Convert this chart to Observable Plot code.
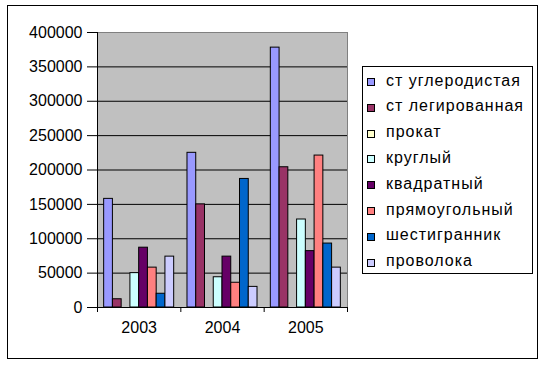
<!DOCTYPE html>
<html><head><meta charset="utf-8">
<script src="https://cdn.jsdelivr.net/npm/d3@7"></script>
<script src="https://cdn.jsdelivr.net/npm/@observablehq/plot@0.6"></script>
<style>
body{margin:0;background:#fff;}
#wrap{position:relative;width:546px;height:365px;font-family:"Liberation Sans",Arial,sans-serif;overflow:hidden;}
#wrap svg{position:absolute;left:0;top:0;}
#border{position:absolute;left:7px;top:5px;width:529px;height:352px;border:1px solid #000;pointer-events:none;}
#legend{position:absolute;left:362px;top:66px;width:169px;height:206px;border:1px solid #000;background:#fff;}
#legend .sw{position:absolute;left:4px;width:6px;height:6px;border:1px solid #000;}
#legend .tx{position:absolute;left:23px;font-size:16px;line-height:18px;letter-spacing:1px;white-space:nowrap;color:#000;}
</style></head>
<body>
<div id="wrap"><div id="border"></div><div id="legend"></div></div>
<script>
const years = ["2003", "2004", "2005"];
const series = ["ст углеродистая", "ст легированная", "прокат", "круглый", "квадратный", "прямоугольный", "шестигранник", "проволока"];
const colors = ["#9999FF", "#993366", "#FFFFCC", "#CCFFFF", "#660066", "#FF8080", "#0066CC", "#CCCCFF"];
const uglerodistaya = [158000, 225000, 378000];
const legirovannaya = [12000, 150000, 204000];
const prokat = [0, 0, 0];
const krugly = [50000, 44000, 128000];
const kvadratny = [87000, 74000, 82000];
const pryamougolny = [58000, 36000, 221000];
const shestigrannik = [20000, 187000, 93000];
const provoloka = [74000, 30000, 58000];
const yTicks = [0, 50000, 100000, 150000, 200000, 250000, 300000, 350000, 400000];

const seriesValues = [uglerodistaya, legirovannaya, prokat, krugly, kvadratny, pryamougolny, shestigrannik, provoloka];
const data = series.flatMap((s, si) => years.map((y, yi) => ({year: y, series: s, value: seriesValues[si][yi]})));

const W = 546, H = 365;
const M = {marginLeft: 97, marginRight: 199, marginTop: 32, marginBottom: 58};
const step = (W - M.marginLeft - M.marginRight) / years.length;
const font = {fontFamily: "'Liberation Sans', Arial, sans-serif", fontSize: "16px", color: "black", background: "transparent"};

const back = Plot.plot({
  width: W, height: H, ...M,
  style: font,
  x: {domain: years, type: "band", padding: 0, round: false},
  y: {domain: [0, 400000]},
  marks: [
    Plot.frame({fill: "#C0C0C0", stroke: "#808080"}),
    Plot.gridY(yTicks.slice(1, -1), {stroke: "black", strokeOpacity: 1}),
    Plot.ruleY([0], {stroke: "black"}),
    Plot.frame({anchor: "left", stroke: "black"}),
    Plot.axisY(yTicks, {tickSize: 10, tickPadding: 5, tickFormat: "d", label: null}),
    Plot.axisX({tickSize: 0, tickPadding: 14, label: null}),
    Plot.axisX({tickSize: 5, tickFormat: () => "", label: null, dx: -step / 2}),
    Plot.axisX([years[years.length - 1]], {tickSize: 5, tickFormat: () => "", label: null, dx: step / 2})
  ]
});

const front = Plot.plot({
  width: W, height: H, ...M,
  style: font,
  fx: {domain: years, padding: 0, round: false, label: null, axis: null},
  x: {domain: series, paddingInner: 0, paddingOuter: 0.76, round: false, axis: null},
  y: {domain: [0, 400000], axis: null},
  color: {domain: series, range: colors},
  marks: [
    Plot.barY(data, {fx: "year", x: "series", y: "value", fill: "series", stroke: "black", strokeWidth: 1})
  ]
});

const wrap = document.getElementById("wrap");
wrap.insertBefore(front, wrap.firstChild);
wrap.insertBefore(back, wrap.firstChild);

const legend = document.getElementById("legend");
series.forEach((s, i) => {
  const base = 19 + i * 25.8; // baseline relative to legend content box
  const sw = document.createElement("div");
  sw.className = "sw";
  sw.style.top = (base - 8) + "px";
  sw.style.background = colors[i];
  legend.appendChild(sw);
  const tx = document.createElement("div");
  tx.className = "tx";
  tx.style.top = (base - 14.5) + "px";
  tx.textContent = s;
  legend.appendChild(tx);
});
</script>
</body></html>
